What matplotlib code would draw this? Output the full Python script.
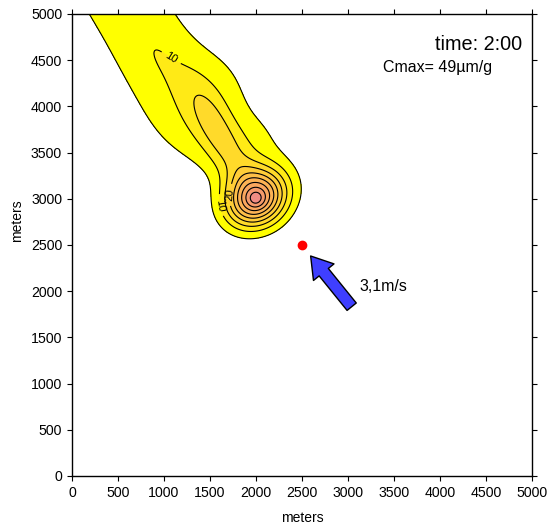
import matplotlib
matplotlib.use('Agg')
import matplotlib.pyplot as plt
import numpy as np
from matplotlib.patches import FancyArrowPatch

plt.rcParams['font.family'] = ['Liberation Sans', 'DejaVu Sans']

# puffs making up the cloud: centre (m), peak concentration (um/g),
# spread along and across the drift direction (m)
puff_x = [2000, 2000, 2230, 2050, 1640,
          1822, 1644, 1380, 1210, 980, 800, 651, 448, 244, 41,
          1822, 1610, 1510, 1420, 930, 820, 651]
puff_y = [3000, 3000, 3280, 3650, 4250,
          3301, 3603, 3850, 4170, 4440, 4712, 5027, 5312, 5597, 5882,
          3301, 3640, 3880, 4100, 4560, 4760, 5027]
puff_c = [38, 5, 2, 2.4, 1.4,
          2.4, 4.4, 4.9, 4.4, 3.5, 3.2, 3.6, 3.5, 3.2, 3.0,
          5.0, 4.0, 3.6, 2.0, 1.8, 0.4, 0.2]
puff_along = [200, 60, 300, 220, 280,
              300, 300, 300, 300, 300, 300, 300, 300, 300, 300,
              300, 300, 300, 300, 300, 300, 300]
puff_cross = [240, 60, 300, 220, 280,
              220, 330, 400, 440, 430, 430, 430, 430, 430, 430,
              160, 130, 130, 140, 170, 200, 200]
drift_angle = 123  # degrees, direction the cloud is carried

levels = [5, 10, 15, 20, 25, 30, 35, 40, 45, 50]
labelled = [10, 20]
band_colors = ['#FFFF00', '#FFEA16', '#FFDA2A', '#FFCD38', '#FEBF48',
               '#FCB254', '#F9A65E', '#F59A6C', '#F08C84']

source = (2500, 2500)
wind_from = (3040, 1832)
wind_to = (2594, 2381)

# concentration grid
gx, gy = np.meshgrid(np.linspace(0, 5000, 501), np.linspace(0, 5000, 501))
ux, uy = np.cos(np.radians(drift_angle)), np.sin(np.radians(drift_angle))
conc = np.zeros_like(gx)
for x0, y0, c0, sa, sc in zip(puff_x, puff_y, puff_c, puff_along, puff_cross):
    dx, dy = gx - x0, gy - y0
    a = dx * ux + dy * uy
    b = -dx * uy + dy * ux
    conc += c0 * np.exp(-0.5 * ((a / sa) ** 2 + (b / sc) ** 2))

fig = plt.figure(figsize=(5.53, 5.30), dpi=100)
ax = fig.add_axes([0.1302, 0.1019, 0.8318, 0.8717])

ax.contourf(gx, gy, conc, levels=levels, colors=band_colors)
plain = [lv for lv in levels[:-1] if lv not in labelled]
ax.contour(gx, gy, conc, levels=plain, colors='k', linewidths=0.8)
cs = ax.contour(gx, gy, conc, levels=labelled, colors='k', linewidths=0.8)
ax.clabel(cs, fmt='%d', fontsize=8, inline=True,
          manual=[(1100, 4560), (1627, 2933), (1736, 3041)])

ax.plot(*source, 'o', color='red', markersize=6)
arrow = FancyArrowPatch(wind_from, wind_to, shrinkA=0, shrinkB=0,
                        arrowstyle='simple,head_length=15,head_width=19,tail_width=8.5',
                        facecolor='#3F3FFF', edgecolor='black', linewidth=1)
ax.add_patch(arrow)
ax.text(3130, 2000, '3,1m/s', fontsize=11.5)

ax.text(0.978, 0.933, 'time: 2:00', transform=ax.transAxes, fontsize=14.3,
        ha='right', va='center')
ax.text(0.677, 0.885, 'Cmax= 49\u00b5m/g', transform=ax.transAxes, fontsize=11.5,
        ha='left', va='center')

ax.set_xlim(0, 5000)
ax.set_ylim(0, 5000)
ax.set_xticks(np.arange(0, 5001, 500))
ax.set_yticks(np.arange(0, 5001, 500))
ax.tick_params(direction='out', length=3.6, width=0.8, labelsize=10.2,
               top=True, right=True)
for spine in ax.spines.values():
    spine.set_linewidth(1.0)
ax.set_xlabel('meters', fontsize=10)
ax.set_ylabel('meters', fontsize=10)
ax.xaxis.set_label_coords(0.5, -0.076)
ax.yaxis.set_label_coords(-0.105, 0.552)

fig.savefig('out.png', dpi=100)
